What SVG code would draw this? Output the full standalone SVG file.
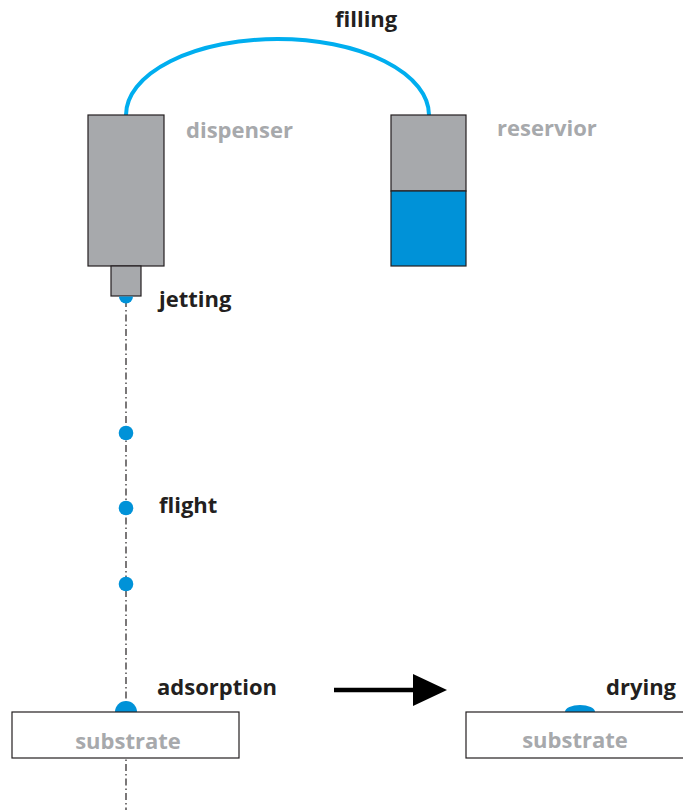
<svg xmlns="http://www.w3.org/2000/svg" width="683" height="810" viewBox="0 0 683 810">
<style>
.lbl{font-family:"Open Sans","Liberation Sans",sans-serif;font-weight:700;font-size:22px;fill:#231F20}
.glbl{font-family:"Open Sans","Liberation Sans",sans-serif;font-weight:700;font-size:22px;fill:#A7A9AC}
.box{fill:#A7A9AC;stroke:#231F20;stroke-width:1.2}
.sub{fill:#FFFFFF;stroke:#231F20;stroke-width:1.2}
.drop{fill:#0092D8}
</style>
<rect width="683" height="810" fill="#FFFFFF"/>
<g id="connectors">
  <path d="M126,115 A151.5,76 0 0 1 429,115" fill="none" stroke="#00AEEF" stroke-width="4"/>
  <line x1="126" y1="300" x2="126" y2="810" stroke="#231F20" stroke-width="1.2" stroke-dasharray="7,3,1.5,3"/>
  <line x1="334" y1="690" x2="416" y2="690" stroke="#000" stroke-width="4.5"/>
  <polygon points="413,674 447,690 413,706" fill="#000"/>
</g>
<g id="dispenser">
  <rect class="box" x="88" y="115" width="76" height="151"/>
  <rect class="box" x="111" y="266" width="30" height="30"/>
  <text class="glbl" x="186" y="138">dispenser</text>
</g>
<g id="reservoir">
  <rect class="box" x="391" y="115" width="75" height="76"/>
  <rect x="391" y="191" width="75" height="75" fill="#0092D8" stroke="#231F20" stroke-width="1.2"/>
  <text class="glbl" x="497" y="136">reservior</text>
</g>
<g id="filling"><text class="lbl" x="335" y="27">filling</text></g>
<g id="jetting">
  <path class="drop" d="M119,296.5 A7,7 0 0 0 133,296.5 Z"/>
  <text class="lbl" x="159" y="307">jetting</text>
</g>
<g id="flight">
  <circle class="drop" cx="126" cy="433" r="7.3"/>
  <circle class="drop" cx="126" cy="508" r="7.3"/>
  <circle class="drop" cx="126" cy="584" r="7.3"/>
  <text class="lbl" x="159" y="513">flight</text>
</g>
<g id="adsorption">
  <path class="drop" d="M115,712 A11,11 0 0 1 137,712 Z"/>
  <rect class="sub" x="12" y="712" width="227" height="46"/>
  <text class="glbl" x="128" y="749" text-anchor="middle">substrate</text>
  <text class="lbl" x="157" y="695">adsorption</text>
</g>
<g id="drying">
  <path class="drop" d="M565,712 A15,7 0 0 1 595,712 Z"/>
  <rect class="sub" x="466" y="712" width="230" height="46"/>
  <text class="glbl" x="575" y="748" text-anchor="middle">substrate</text>
  <text class="lbl" x="606" y="695">drying</text>
</g>
</svg>
